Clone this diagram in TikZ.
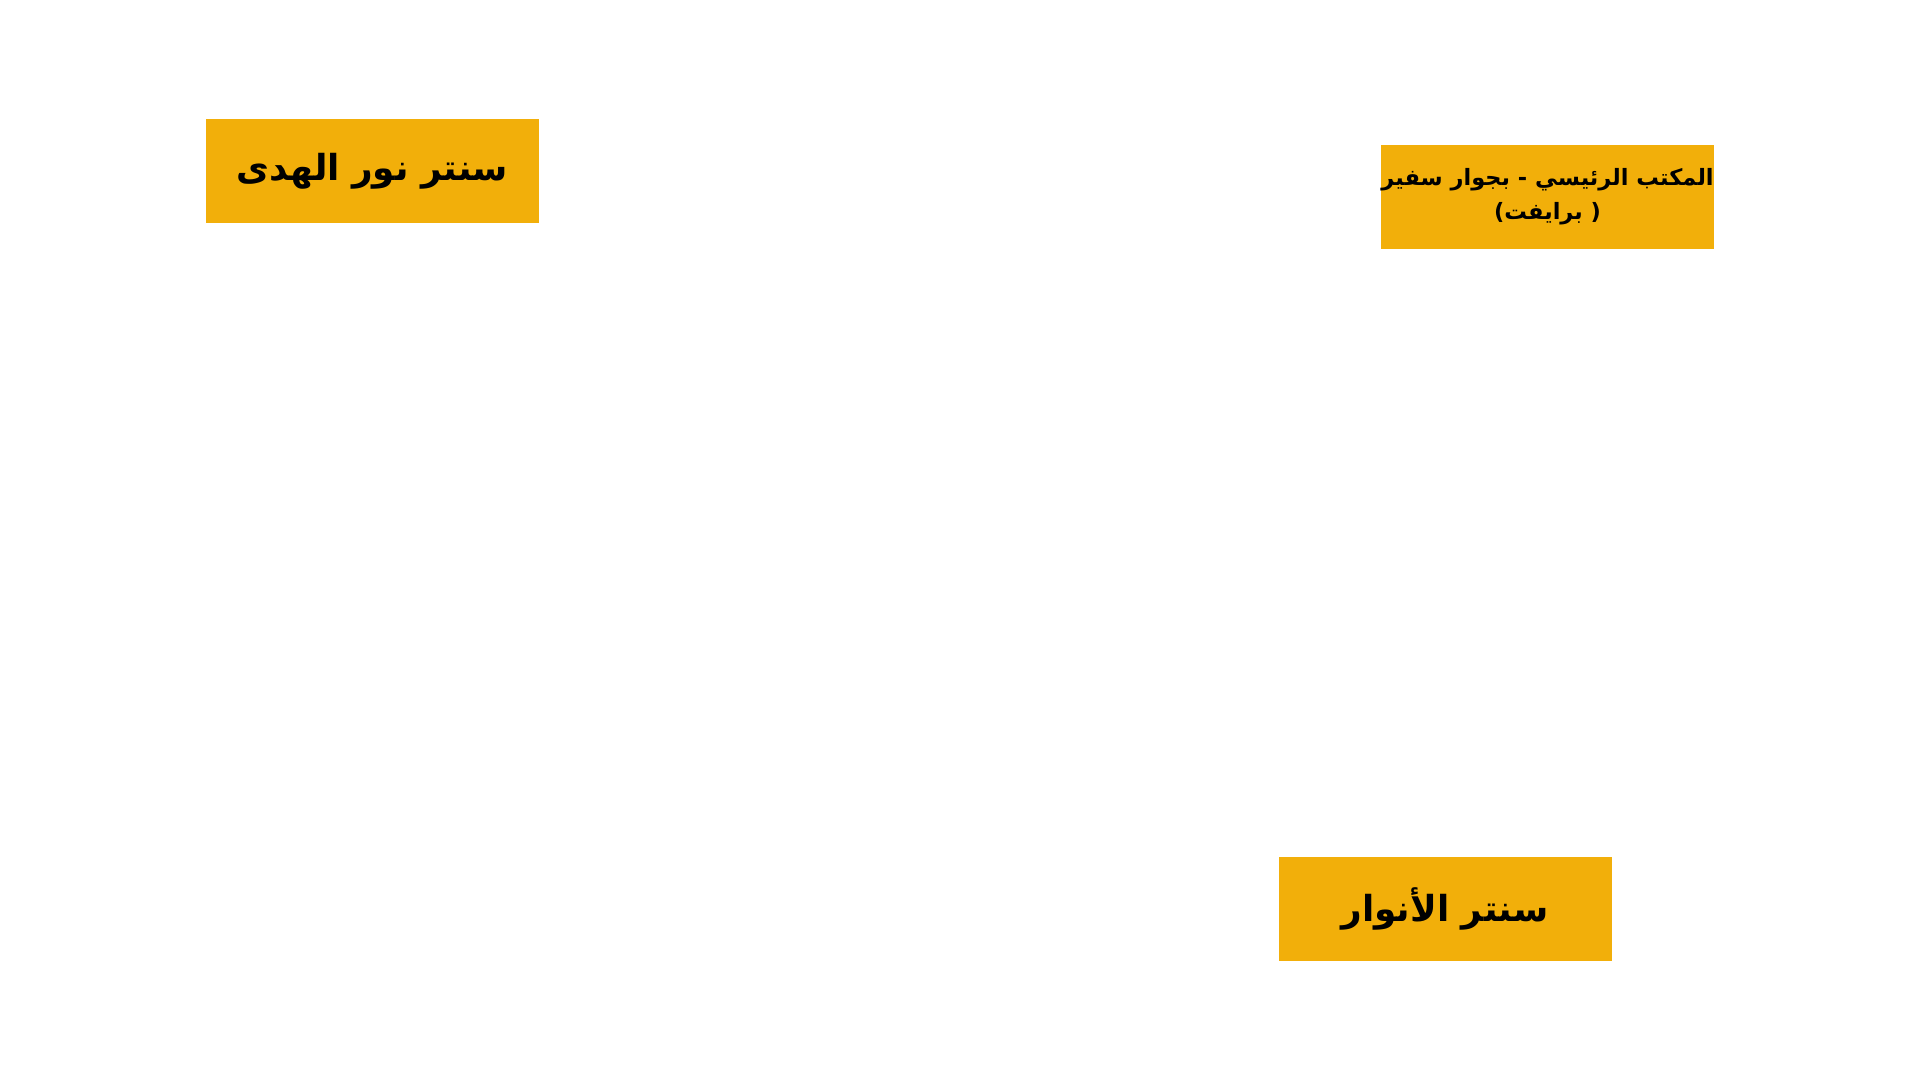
\documentclass[tikz,border=0pt]{standalone}
\usepackage{fontspec}
\newfontfamily\arabicfont[Script=Arabic]{DejaVu Sans}
\TeXXeTstate=1
\definecolor{boxgold}{RGB}{242,175,10}
\tikzset{
  place/.style={fill=boxgold, minimum width=3.33cm, minimum height=1.04cm, inner sep=0pt, align=center, text=black},
}
\begin{document}
\begin{tikzpicture}
% Canvas
\useasboundingbox[fill=white] (0,0) rectangle (19.2,10.8);
% Locations
\node[place, font=\arabicfont\bfseries\fontsize{10.2}{12}\selectfont] (noorhuda) at (3.725,9.09) {\beginR سنتر نور الهدى\endR};
\node[place, font=\arabicfont\bfseries\fontsize{6.4}{9.7}\selectfont] (mainoffice) at (15.475,8.83) {\beginR المكتب الرئيسي - بجوار سفير\endR\\\beginR( برايفت)\endR};
\node[place, font=\arabicfont\bfseries\fontsize{10.2}{12}\selectfont] (anwar) at (14.45,1.71) {\beginR سنتر الأنوار\endR};
\end{tikzpicture}
\end{document}
